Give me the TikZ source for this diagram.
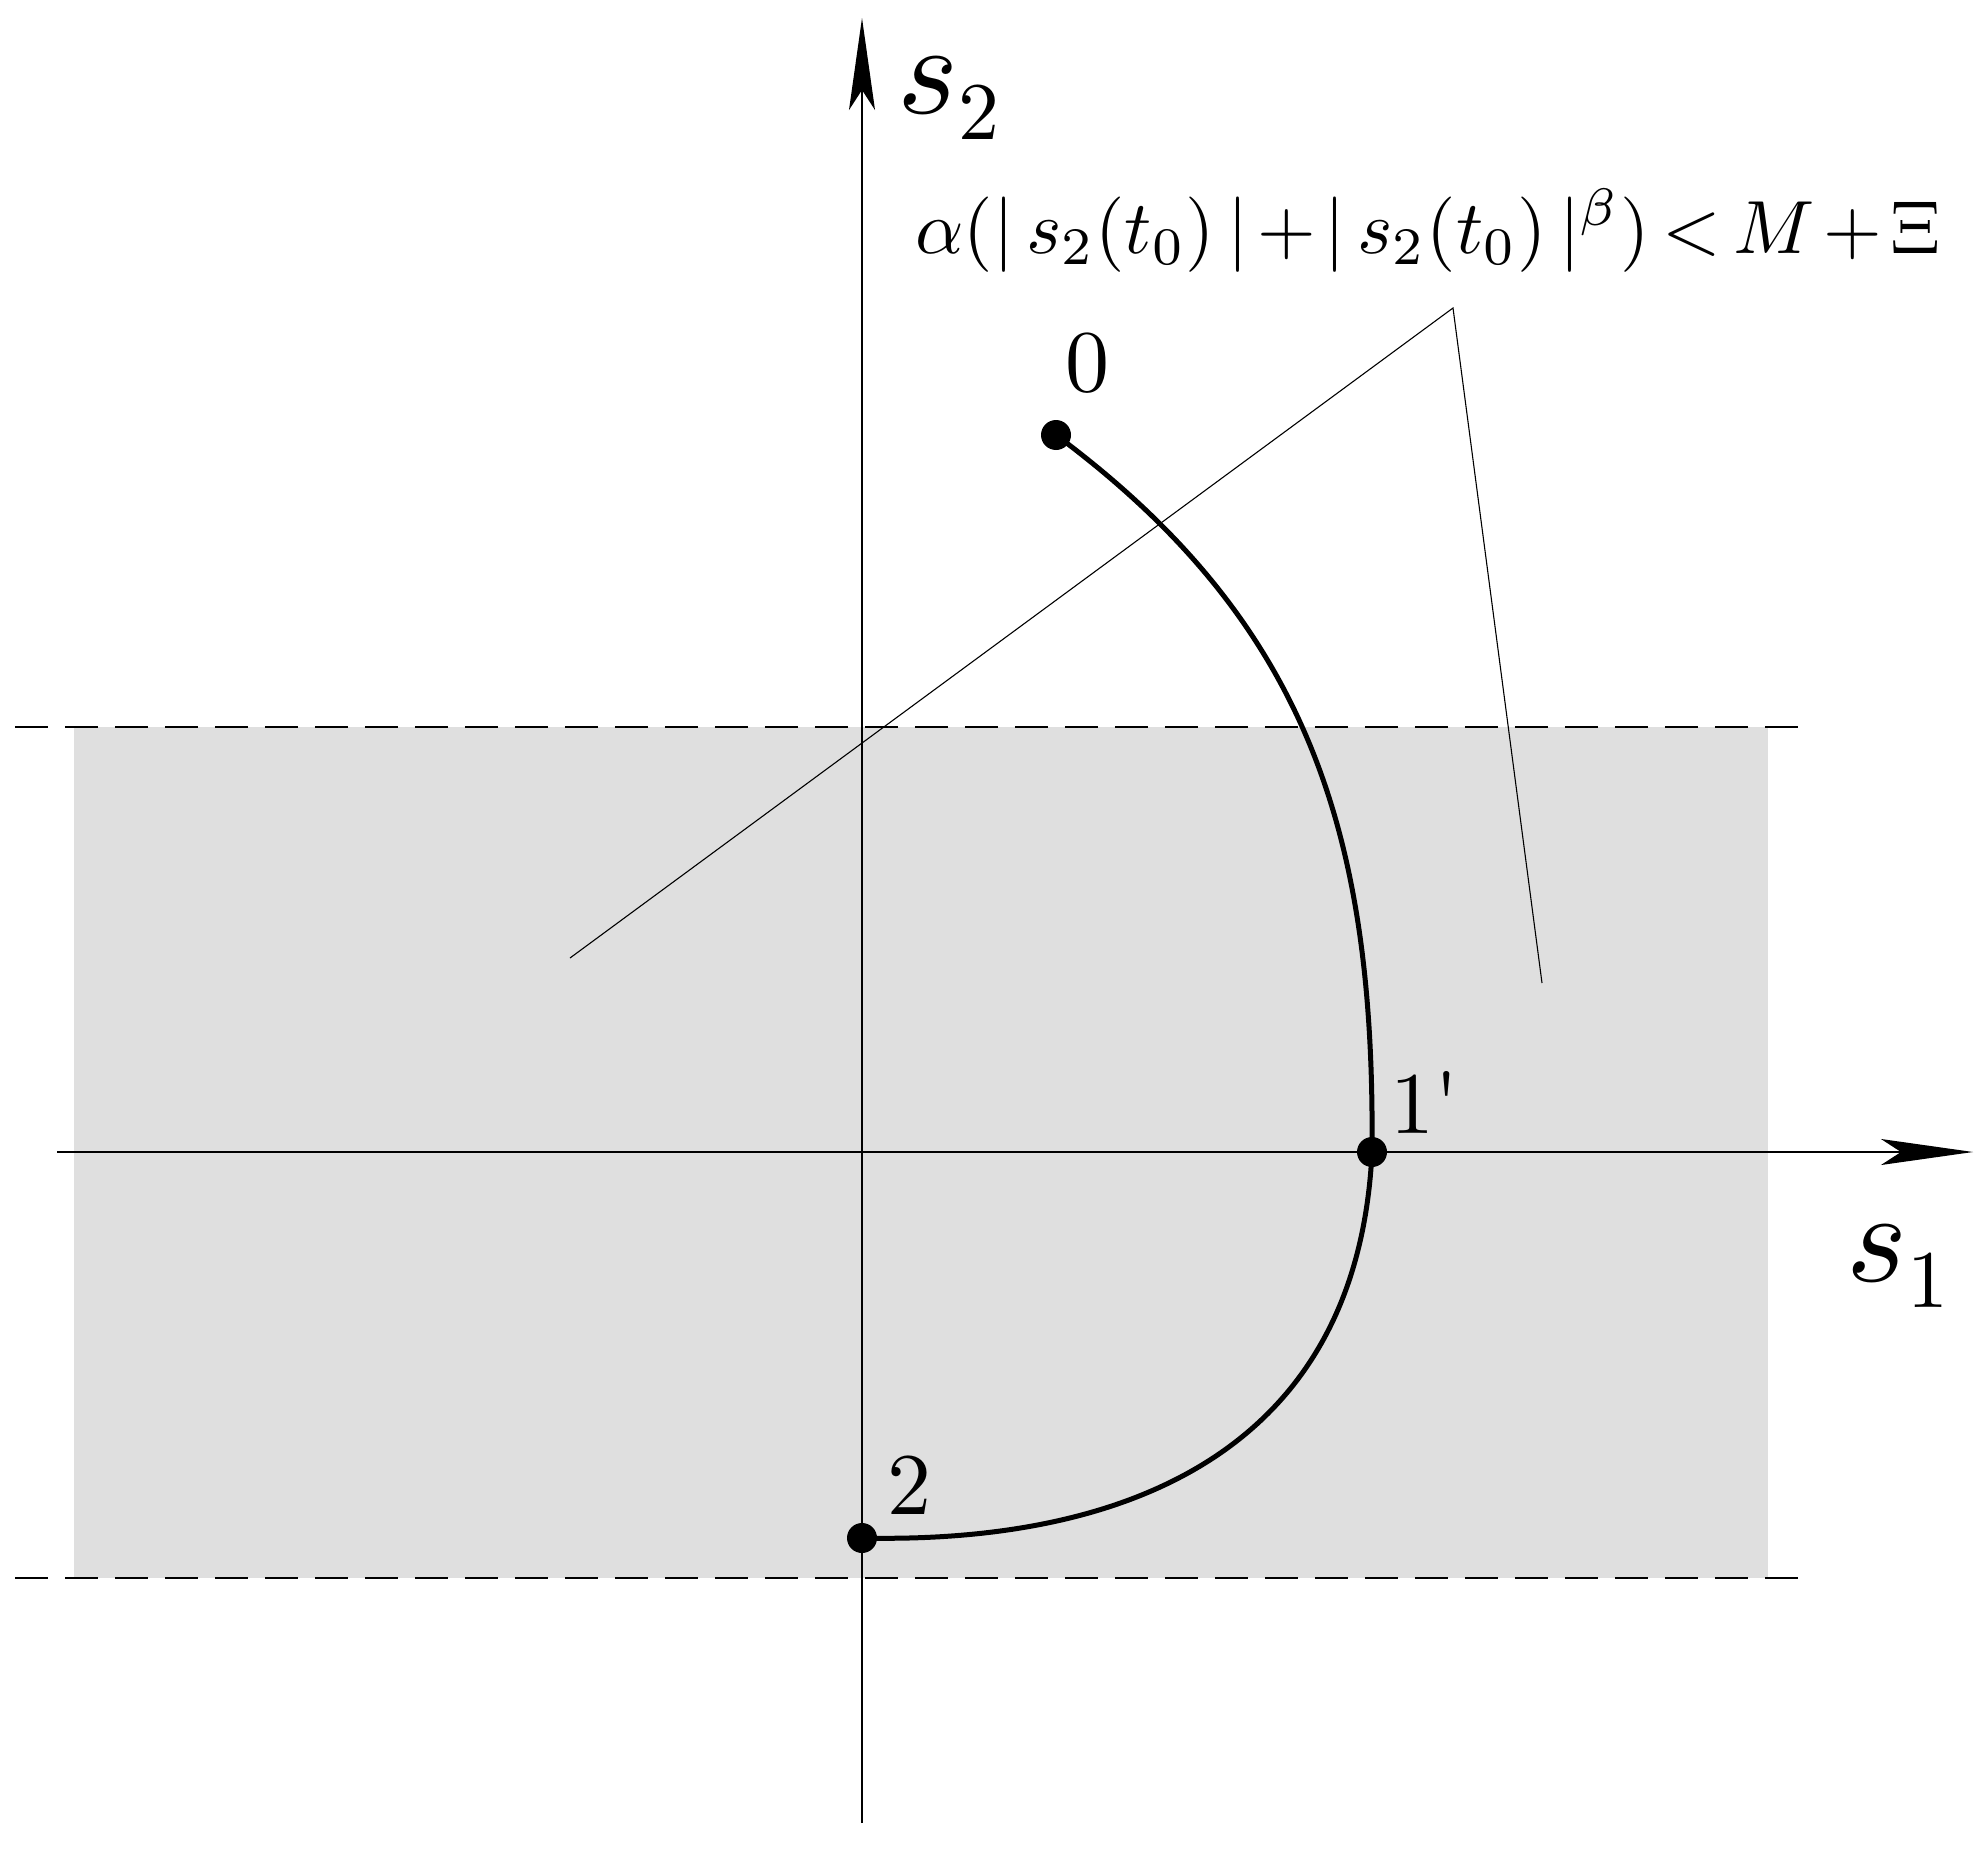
\documentclass[tikz,border=0pt]{standalone}
\usetikzlibrary{arrows.meta}
\newcommand{\lowsub}[1]{\raisebox{-0.2em}{\scalebox{0.63}{#1}}}
\tikzset{
  axisline/.style={line width=1.6pt,-{Stealth[length=92pt,width=26pt,inset=20pt]}},
  region/.style={fill=black!12.5,draw=none},
  bound/.style={line width=1.4pt,dash pattern=on 33pt off 17pt},
  leader/.style={line width=1.1pt},
  trajectory/.style={line width=5pt,line join=round},
  dot/.style={circle,fill=black,inner sep=0pt,minimum size=30pt},
  axislabel/.style={inner sep=0pt,scale=13},
  ptlabel/.style={inner sep=0pt,scale=8.8},
  formula/.style={inner sep=0pt}
}
\begin{document}
\begin{tikzpicture}[x=1pt,y=-1pt]
\useasboundingbox (0,0) rectangle (1987,1849);
% shaded band
\fill[region] (73.5,727) rectangle (1768,1578);
\coordinate (dtl) at (15,727);
\coordinate (dtr) at (1802,727);
\coordinate (dbl) at (15,1578);
\coordinate (dbr) at (1802,1578);
\draw[bound] (dtl) -- (dtr);
\draw[bound] (dbl) -- (dbr);
% axes
\coordinate (yb) at (862,1823);
\coordinate (yt) at (862,18);
\coordinate (xl) at (57,1152);
\coordinate (xr) at (1973,1152);
\draw[axisline] (yb) -- (yt);
\draw[axisline] (xl) -- (xr);
\node[axislabel] (s2) at (948,99) {$s$\lowsub{2}};
\node[axislabel] (s1) at (1897,1267) {$s$\lowsub{1}};
% leader lines
\coordinate (la) at (570,958);
\coordinate (lb) at (1453,308);
\coordinate (lc) at (1542,983);
\draw[leader] (la) -- (lb) -- (lc);
% formula
\node[formula,anchor=base west] (f) at (915,253)
 {\resizebox{1025pt}{!}{\medmuskip=2mu\thickmuskip=3mu$\alpha(|\,s_2(t_0)\,|+|\,s_2(t_0)\,|^{\beta})<M+\Xi$}};
% trajectory
\node[dot] (p0) at (1056,435) {};
\node[dot] (p1) at (1372,1152) {};
\node[dot] (p2) at (862,1538) {};
\draw[trajectory] (p0.center) .. controls (1309,623) and (1375,835) .. (p1.center)
  .. controls (1356,1483) and (1077,1543) .. (p2.center);
\node[ptlabel] (l0) at (1087,363) {0};
\node[ptlabel] (l1) at (1425,1102) {1\textquotesingle};
\node[ptlabel] (l2) at (909,1485) {2};
\end{tikzpicture}
\end{document}
